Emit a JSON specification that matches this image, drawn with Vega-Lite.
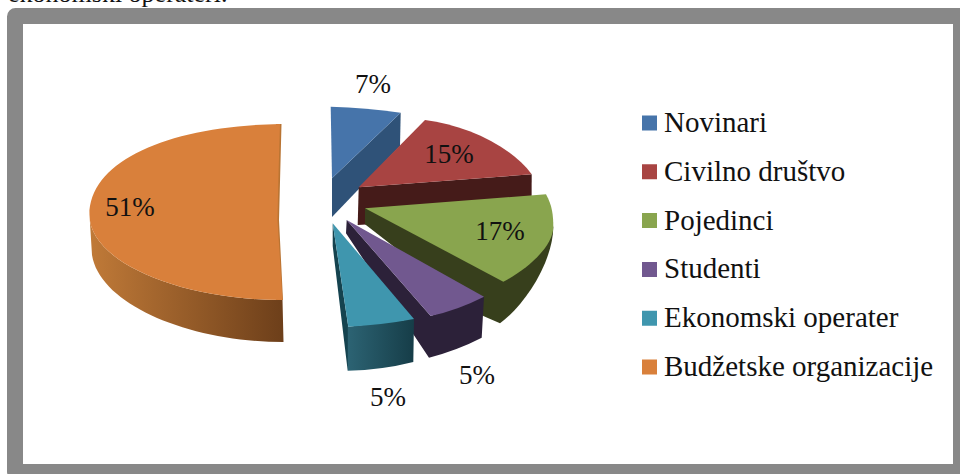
{
"$schema":"https://vega.github.io/schema/vega-lite/v6.json",
"width":946,"height":456,"autosize":"none","padding":{"left":15,"top":16,"right":-1,"bottom":2},
"background":"white",
"view":{"stroke":"#888888","strokeWidth":16,"fill":"white","cornerRadius":0.5},
"config":{"text":{"font":"Liberation Serif","fontSize":27,"fill":"#111111"}},
"data":{"values":[
{"category":"Novinari","value":0.07},
{"category":"Civilno društvo","value":0.15},
{"category":"Pojedinci","value":0.17},
{"category":"Studenti","value":0.05},
{"category":"Ekonomski operater","value":0.05},
{"category":"Budžetske organizacije","value":0.51}]},
"resolve":{"scale":{"color":"independent","shape":"independent"}},
"layer":[
{"mark":{"type":"point","filled":true,"shape":"square","size":1,"opacity":0,"strokeWidth":0},
"encoding":{
"color":{"field":"category","type":"nominal","sort":null,"scale":{"domain":["Novinari","Civilno društvo","Pojedinci","Studenti","Ekonomski operater","Budžetske organizacije"],"range":["#4674aa","#a84442","#89a54e","#71588f","#3f96ae","#d9803b"]},
"legend":{"title":null,"orient":"none","legendX":620,"legendY":92.5,"symbolType":"square","symbolSize":225,"symbolStrokeWidth":0,"symbolOpacity":1,"labelFont":"Liberation Serif","labelFontSize":29,"labelColor":"#111111","labelOffset":0,"labelLimit":320,"rowPadding":18.8,"clipHeight":29}}}},
{"transform":[{"filter":"datum.value>0.05 && datum.value<0.5 || datum.category==='Studenti'"}],
"mark":{"type":"point","filled":true,"size":4,"opacity":1,"strokeWidth":0},
"encoding":{
"color":{"field":"category","type":"nominal","legend":null,"sort":null,"scale":{"domain":["Novinari","Civilno društvo","Pojedinci","Studenti"],"range":["#2f5278","#451b19","#373f1c","#2c2139"]}},
"shape":{"field":"category","type":"nominal","legend":null,"sort":null,"scale":{"domain":["Novinari","Civilno društvo","Pojedinci","Studenti"],"range":[
"M-87.3,-131.3 L-88,-98 L-156,-27 L-156,-65.7 Z",
"M-129.3,-56.7 L43.7,-69.7 L43.5,-29 L-130.3,-19 Z",
"M-123,-35.7 L65.3,-17.3 C65,18 37,61 12,79.3 L-4.7,72 L-123,-19.7 Z",
"M-141.3,-24 L-142,-10.7 L-59,113.7 Q-30,106 -6.3,93.7 L-4,52.7 L-57.3,72 Z"]}}}},
{"transform":[{"filter":"datum.category==='Ekonomski operater'"}],
"mark":{"type":"point","filled":true,"size":4,"opacity":1,"strokeWidth":0,"shape":"M-155.3,-20.7 L-155.3,2 L-140.3,126.7 Q-106,126 -74.7,118 L-74,75 L-139.7,82.7 Z",
"color":{"gradient":"linear","x1":0,"y1":0,"x2":1,"y2":0,"stops":[{"offset":0,"color":"#15434f"},{"offset":0.18,"color":"#15434f"},{"offset":0.19,"color":"#2c6373"},{"offset":1,"color":"#163d48"}]}}},
{"transform":[{"filter":"datum.category==='Budžetske organizacije'"}],
"mark":{"type":"point","filled":true,"size":4,"opacity":1,"strokeWidth":0,"shape":"M-398.5,-29 L-396,11 C-388,61 -298,98 -204.5,98 L-205.5,56 C-308,56 -398.5,18 -398.5,-29 Z",
"color":{"gradient":"linear","x1":0,"y1":0,"x2":1,"y2":0,"stops":[{"offset":0,"color":"#c07a38"},{"offset":1,"color":"#6d3f1a"}]}}},
{"transform":[{"filter":"datum.category==='Budžetske organizacije'"}],
"mark":{"type":"point","filled":true,"size":4,"opacity":1,"strokeWidth":0,"color":"#b97433","shape":"M-207,-120 L-206.5,-120 L-209,-24 L-205,56 L-212,56 L-212,-120 Z"}},
{"mark":{"type":"point","filled":true,"size":4,"opacity":1,"strokeWidth":0},
"encoding":{
"color":{"field":"category","type":"nominal","sort":null,"legend":null,"scale":{"domain":["Novinari","Civilno društvo","Pojedinci","Studenti","Ekonomski operater","Budžetske organizacije"],"range":["#4674aa","#a84442","#89a54e","#71588f","#3f96ae","#d9803b"]}},
"shape":{"field":"category","type":"nominal","legend":null,"sort":null,"scale":{"domain":["Novinari","Civilno društvo","Pojedinci","Studenti","Ekonomski operater","Budžetske organizacije"],"range":[
"M-157.3,-137.3 Q-122,-136.5 -87.3,-131.3 L-156,-65.7 Z",
"M-63,-124 C-23,-119 22,-99 43.7,-69.7 L-129.3,-56.7 Z",
"M-123,-35.7 L58,-49.7 C64,-39 65.3,-29 65.3,-17.3 C65.3,1 42,24 15.3,37.7 Z",
"M-141.3,-24 L-4,52.7 Q-30,66 -57.3,72 Z",
"M-155.3,-20.7 L-74,75 Q-106,81 -139.7,82.7 Z",
"M-208,-120 C-318,-118 -398.5,-84 -398.5,-29 C-398.5,18 -308,56 -205.5,56 L-210.5,-24 Q-209.5,-74 -208,-120 Z"]}}}},
{"transform":[{"filter":"datum.category==='Novinari'"}],"mark":{"type":"text","dx":-115,"dy":-159},"encoding":{"text":{"field":"value","type":"quantitative","format":".0%"}}},
{"transform":[{"filter":"datum.category==='Civilno društvo'"}],"mark":{"type":"text","dx":-39,"dy":-89},"encoding":{"text":{"field":"value","type":"quantitative","format":".0%"}}},
{"transform":[{"filter":"datum.category==='Pojedinci'"}],"mark":{"type":"text","dx":12,"dy":-12},"encoding":{"text":{"field":"value","type":"quantitative","format":".0%"}}},
{"transform":[{"filter":"datum.category==='Studenti'"}],"mark":{"type":"text","dx":-11,"dy":132},"encoding":{"text":{"field":"value","type":"quantitative","format":".0%"}}},
{"transform":[{"filter":"datum.category==='Ekonomski operater'"}],"mark":{"type":"text","dx":-100,"dy":154},"encoding":{"text":{"field":"value","type":"quantitative","format":".0%"}}},
{"transform":[{"filter":"datum.category==='Budžetske organizacije'"}],"mark":{"type":"text","dx":-358,"dy":-36},"encoding":{"text":{"field":"value","type":"quantitative","format":".0%"}}},
{"data":{"values":[{"note":"ekonomski operateri."}]},"mark":{"type":"text","align":"left","baseline":"alphabetic","dx":-480,"dy":-242,"fontSize":26},"encoding":{"text":{"field":"note","type":"nominal"}}}
]
}
